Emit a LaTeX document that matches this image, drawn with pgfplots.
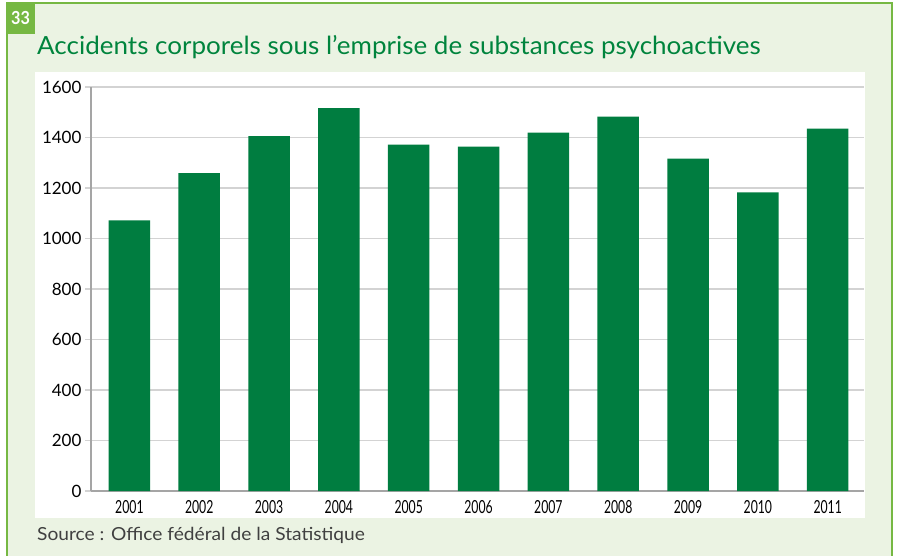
\documentclass[border=0pt]{standalone}
\usepackage{pgfplots}
\pgfplotsset{compat=1.18}
\usepackage{fontspec}
\setmainfont{Lato}

\definecolor{frameGreen}{HTML}{76B843}
\definecolor{panelGreen}{HTML}{EBF3E3}
\definecolor{barGreen}{HTML}{007D40}
\definecolor{titleGreen}{HTML}{00843D}
\definecolor{gridGray}{HTML}{D3D3D3}
\definecolor{axisGray}{HTML}{A5A5A5}
\definecolor{textGray}{HTML}{404040}

\pgfplotstableread{
idx year value
0 2001 1072
1 2002 1259
2 2003 1405
3 2004 1516
4 2005 1372
5 2006 1364
6 2007 1419
7 2008 1483
8 2009 1316
9 2010 1183
10 2011 1435
}\accidents

\newcommand{\yr}[1]{\scalebox{0.68}[1]{#1}}

\begin{document}
\begin{tikzpicture}[x=1pt,y=1pt]
\path[use as bounding box] (0,0) rectangle (899,555);
% outer box
\fill[panelGreen] (7,-5) rectangle (892,552);
\draw[frameGreen, line width=1.5] (7,-5) rectangle (892,552);
% white chart panel
\fill[white] (35,37) rectangle (865,483);
% figure number badge
\fill[frameGreen] (6.25,521) rectangle (35,552.75);
\node[white, font=\bfseries\fontsize{18}{18}\selectfont, anchor=center, inner sep=0] at (20.5,537) {\scalebox{0.9}[1]{33}};
% title and source
\node[titleGreen, anchor=base west, inner sep=0, font=\fontsize{25}{25}\selectfont] at (37,500)
  {\scalebox{1.04}[1]{Accidents corporels sous l’emprise de substances psychoactives}};
\node[textGray, anchor=base west, inner sep=0, font=\fontsize{18}{18}\selectfont] at (37,14.3)
  {\scalebox{1.065}[1]{Source : Office fédéral de la Statistique}};

\begin{axis}[
  at={(91pt,64pt)}, anchor=south west,
  width=773pt, height=404pt, scale only axis,
  xmin=-0.55, xmax=10.52,
  ymin=0, ymax=1600,
  ytick={0,200,...,1600},
  xtick={0,...,10},
  xticklabels={\yr{2001},\yr{2002},\yr{2003},\yr{2004},\yr{2005},\yr{2006},\yr{2007},\yr{2008},\yr{2009},\yr{2010},\yr{2011}},
  axis x line*=bottom, axis y line*=left,
  axis line style={axisGray, line width=2pt, -},
  ymajorgrids, grid style={gridGray, line width=1.5pt},
  xtick style={draw=none},
  ytick style={gridGray, line width=1.5pt},
  tick align=outside, major tick length=6pt,
  ticklabel style={font=\fontsize{17}{17}\selectfont, text=black},
  xticklabel style={font=\fontsize{18}{18}\selectfont},
  /pgf/number format/assume math mode=true,
  /pgf/number format/set thousands separator={},
  ybar, bar width=41.5pt,
  axis on top=false,
]
\addplot[fill=barGreen, draw=none] table[x=idx, y=value] {\accidents};
\end{axis}
\end{tikzpicture}
\end{document}
